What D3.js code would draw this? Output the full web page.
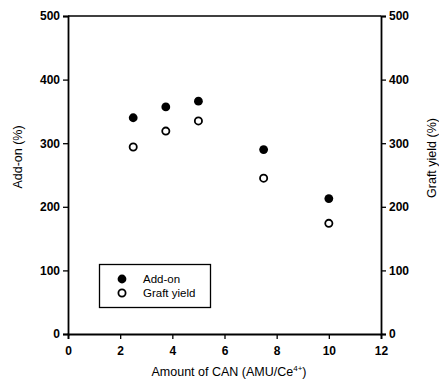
<!DOCTYPE html>
<meta charset="utf-8">
<style>
body { margin: 0; background: #fff; }
svg text { font-family: "Liberation Sans", Arial, sans-serif; fill: #000; }
.tick text { font-weight: bold; font-size: 12px; }
</style>
<body>
<script src="https://d3js.org/d3.v7.min.js"></script>
<script>
// data
var amount = [2.5, 3.75, 5, 7.5, 10];
var addOn = [340, 357, 366, 290, 213];
var graftYield = [294, 319, 335, 245, 174];
var xTicks = [0, 2, 4, 6, 8, 10, 12];
var yTicks = [0, 100, 200, 300, 400, 500];

var W = 439, H = 383;
var plotL = 68, plotR = 381, plotT = 16, plotB = 334;

var svg = d3.select("body").append("svg")
    .attr("width", W)
    .attr("height", H);

var x = d3.scaleLinear().domain([0, 12]).range([plotL, plotR]);
var y = d3.scaleLinear().domain([0, 500]).range([plotB, plotT]);

// axes
var gx = svg.append("g")
    .attr("transform", "translate(0," + plotB + ")")
    .call(d3.axisBottom(x).tickValues(xTicks).tickSize(5).tickPadding(4).tickFormat(d3.format("d")));
var gl = svg.append("g")
    .attr("transform", "translate(" + plotL + ",0)")
    .call(d3.axisLeft(y).tickValues(yTicks).tickSize(5).tickPadding(3));
var gr = svg.append("g")
    .attr("transform", "translate(" + plotR + ",0)")
    .call(d3.axisRight(y).tickValues(yTicks).tickSize(5).tickPadding(3));

[gx, gl, gr].forEach(function(g) {
  g.select(".domain").attr("stroke", "#000").attr("stroke-width", 1.8);
  g.selectAll(".tick line").attr("stroke", "#000").attr("stroke-width", 1.3);
});
gx.selectAll(".tick text").attr("dy", "1em");

// top frame line
svg.append("line")
    .attr("x1", plotL).attr("x2", plotR)
    .attr("y1", plotT).attr("y2", plotT)
    .attr("stroke", "#000").attr("stroke-width", 1.3);

// points
svg.selectAll("circle.addon")
    .data(amount)
  .enter().append("circle")
    .attr("class", "addon")
    .attr("cx", function(d) { return x(d); })
    .attr("cy", function(d, i) { return y(addOn[i]); })
    .attr("r", 4.4)
    .attr("fill", "#000");

svg.selectAll("circle.graft")
    .data(amount)
  .enter().append("circle")
    .attr("class", "graft")
    .attr("cx", function(d) { return x(d); })
    .attr("cy", function(d, i) { return y(graftYield[i]); })
    .attr("r", 3.6)
    .attr("fill", "#fff")
    .attr("stroke", "#000")
    .attr("stroke-width", 1.8);

// legend
var leg = svg.append("g");
leg.append("rect")
    .attr("x", 99.5).attr("y", 264.5)
    .attr("width", 111).attr("height", 43)
    .attr("fill", "none").attr("stroke", "#000").attr("stroke-width", 1.3);
leg.append("circle").attr("cx", 122).attr("cy", 279).attr("r", 4.4).attr("fill", "#000");
leg.append("circle").attr("cx", 122).attr("cy", 293).attr("r", 3.6)
    .attr("fill", "#fff").attr("stroke", "#000").attr("stroke-width", 1.8);
leg.append("text").attr("x", 143).attr("y", 283).style("font-size", "11.5px").text("Add-on");
leg.append("text").attr("x", 143).attr("y", 297).style("font-size", "11.5px").text("Graft yield");

// axis titles
var xt = svg.append("text")
    .attr("x", 229).attr("y", 376)
    .attr("text-anchor", "middle")
    .style("font-size", "12.5px");
xt.append("tspan").text("Amount of CAN (AMU/Ce");
xt.append("tspan").attr("dy", -5).style("font-size", "8px").text("4+");
xt.append("tspan").attr("dy", 5).text(")");

svg.append("text")
    .attr("transform", "translate(22,157) rotate(-90)")
    .attr("text-anchor", "middle")
    .style("font-size", "12.5px")
    .text("Add-on (%)");

svg.append("text")
    .attr("transform", "translate(436,158) rotate(-90)")
    .attr("text-anchor", "middle")
    .style("font-size", "12.5px")
    .text("Graft yield (%)");
</script>
</body>
